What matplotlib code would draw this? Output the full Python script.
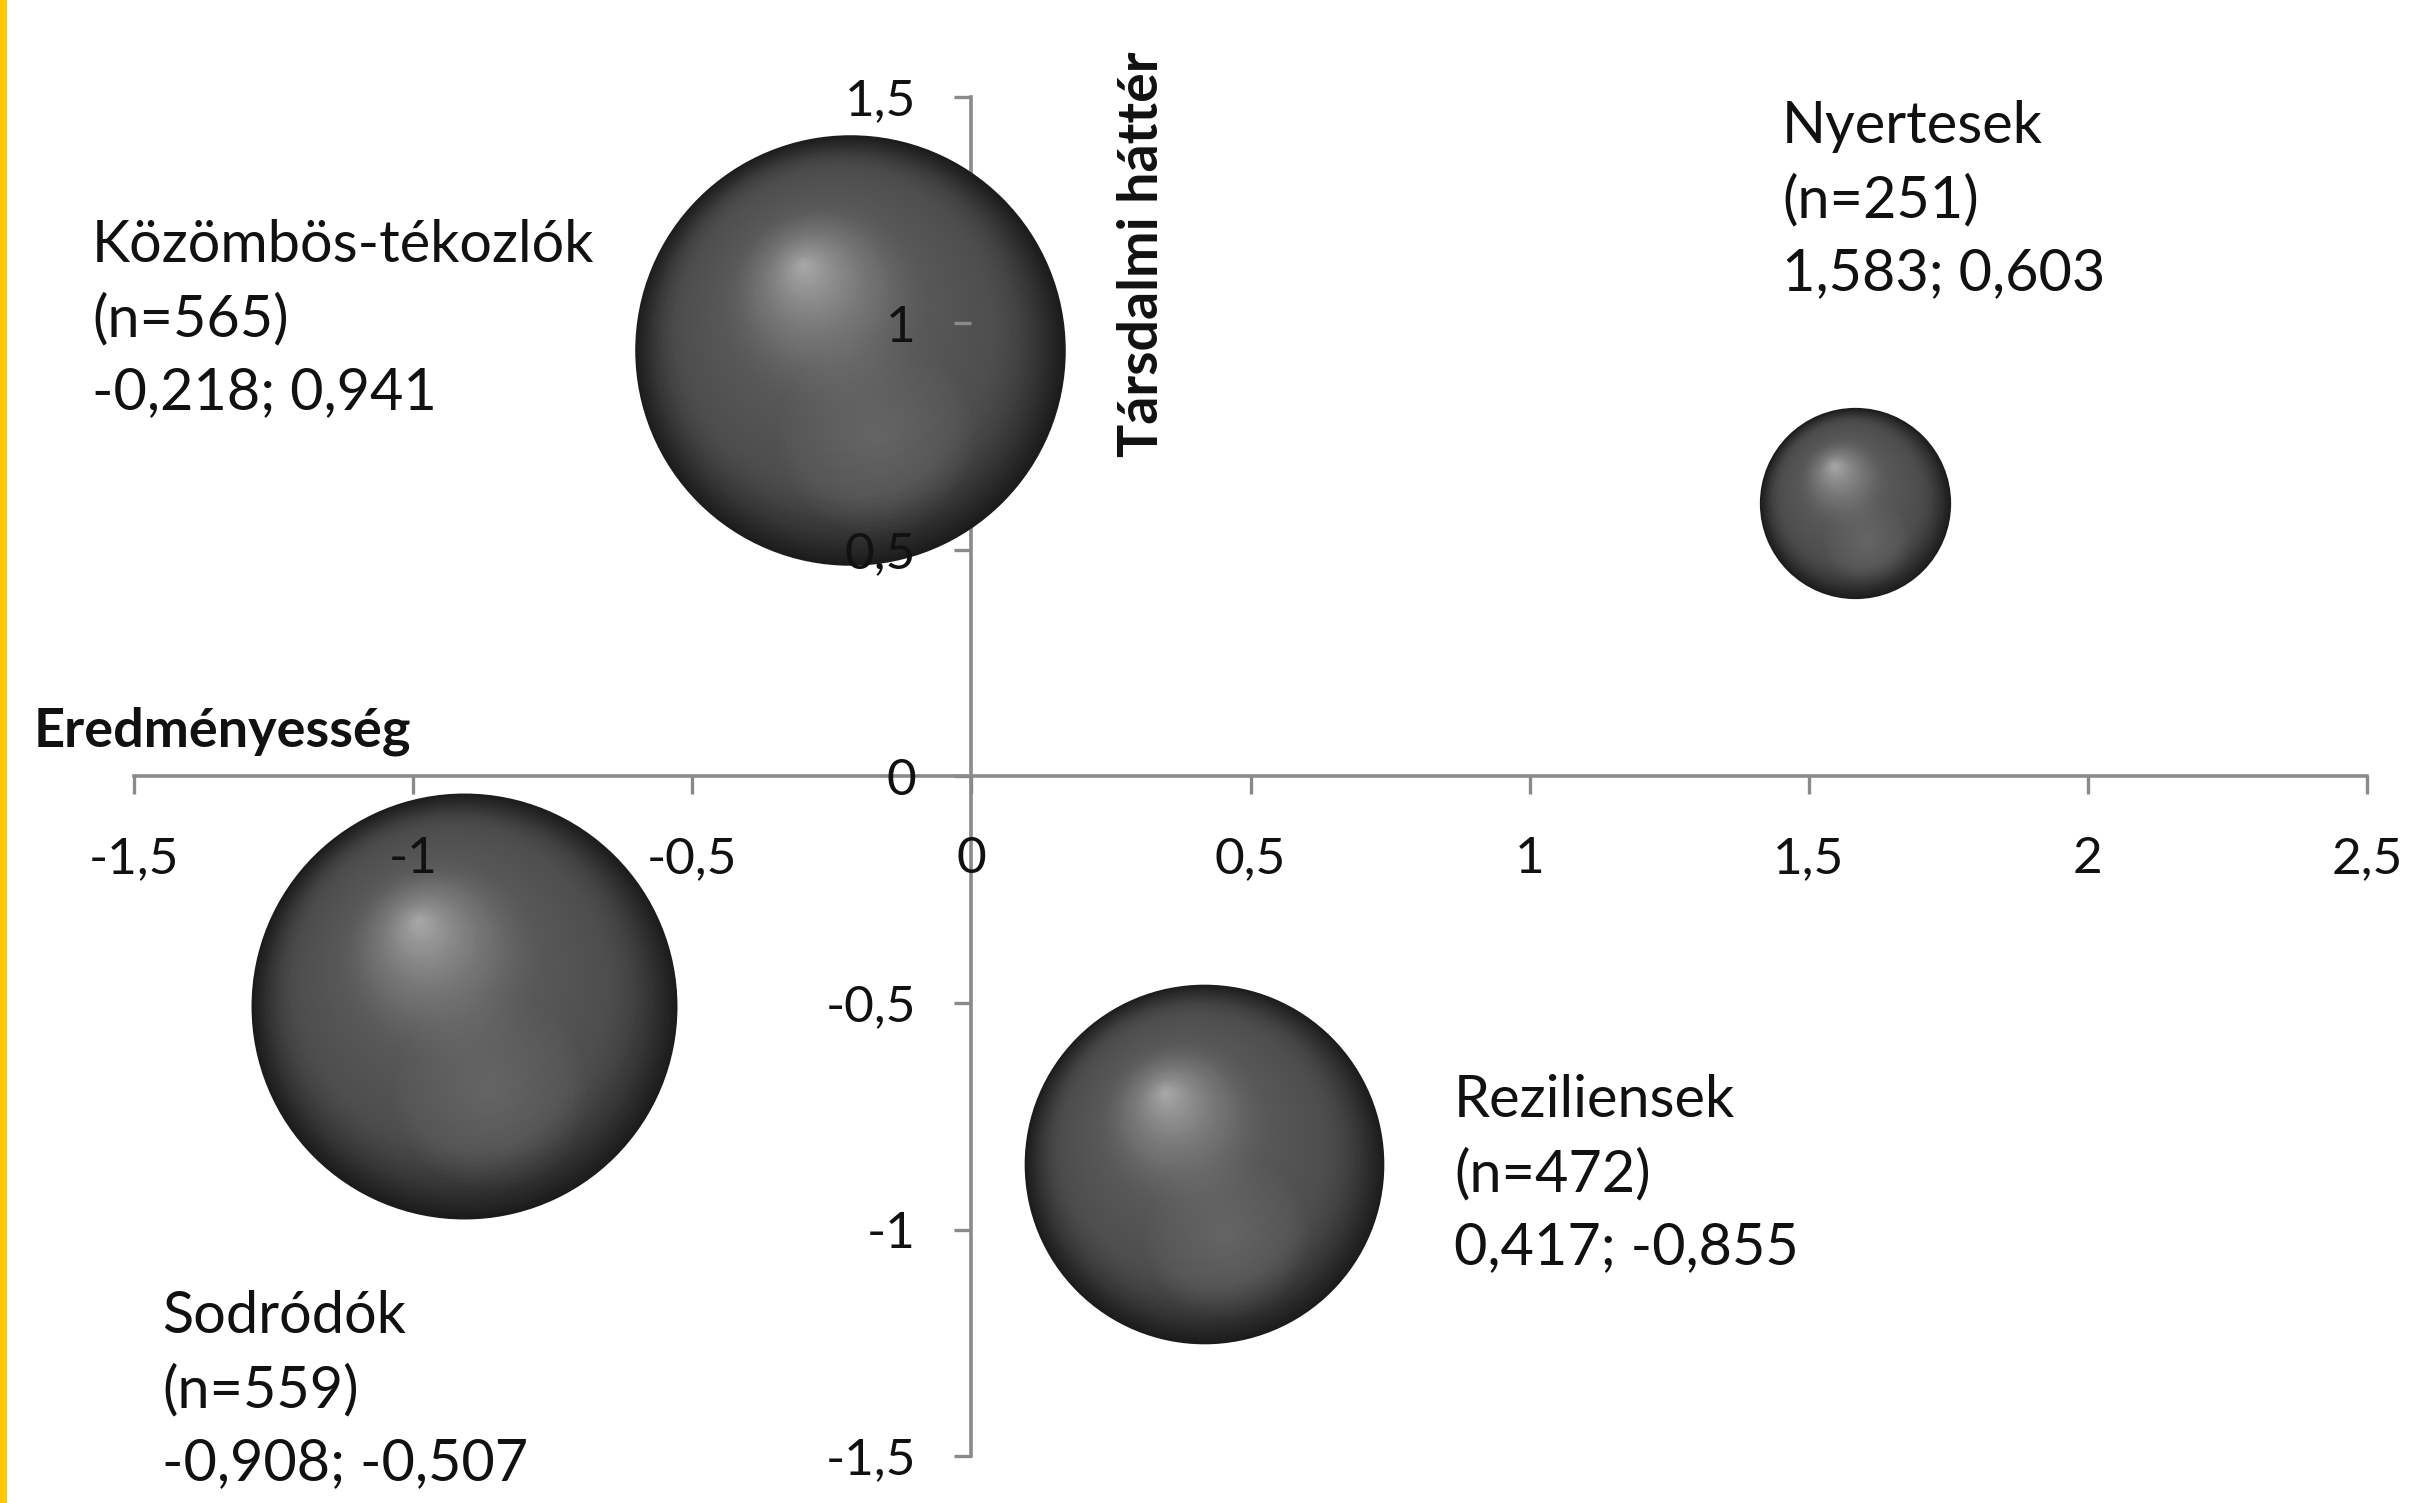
import numpy as np
import matplotlib
matplotlib.use("Agg")
import matplotlib.pyplot as plt
from matplotlib.transforms import offset_copy
from matplotlib.patches import Rectangle

plt.rcParams['font.family'] = ['Lato', 'DejaVu Sans']

# ---- data ----
groups = ["Közömbös-tékozlók", "Nyertesek", "Reziliensek", "Sodródók"]
x_vals = [-0.218, 1.583, 0.417, -0.908]
y_vals = [0.941, 0.603, -0.855, -0.507]
n_vals = [565, 251, 472, 559]
x_ticks = [-1.5, -1.0, -0.5, 0.0, 0.5, 1.0, 1.5, 2.0, 2.5]
y_ticks = [-1.5, -1.0, -0.5, 0.0, 0.5, 1.0, 1.5]
x_title = "Eredményesség"
y_title = "Társdalmi háttér"

W, H, DPI = 2413, 1503, 100
fig = plt.figure(figsize=(W / DPI, H / DPI), dpi=DPI)
fig.patch.set_facecolor("white")

# axes placement in pixels
x0_px, x1_px = 134, 2367
ytop_px, ybot_px = 97, 1456
ax = fig.add_axes([x0_px / W, 1 - ybot_px / H, (x1_px - x0_px) / W, (ybot_px - ytop_px) / H])
ax.set_xlim(-1.5, 2.5)
ax.set_ylim(-1.5, 1.5)
ax.patch.set_alpha(0)


def fmt(v):
    return ("%g" % v).replace(".", ",")


axis_col = "#8a8a8a"
for side in ["top", "right"]:
    ax.spines[side].set_visible(False)
ax.spines["left"].set_position(("data", 0))
ax.spines["bottom"].set_position(("data", 0))
for side in ["left", "bottom"]:
    ax.spines[side].set_color(axis_col)
    ax.spines[side].set_linewidth(2.6)
    ax.spines[side].set_zorder(0.5)

ax.set_xticks(x_ticks)
ax.set_xticklabels([fmt(v) for v in x_ticks])
ax.set_yticks(y_ticks)
ax.set_yticklabels([fmt(v) for v in y_ticks])
ax.tick_params(axis="x", direction="out", length=13, width=2.4, color=axis_col,
               pad=30, labelsize=37, labelcolor="#111111")
ax.tick_params(axis="y", direction="out", length=12, width=2.4, color=axis_col,
               pad=28, labelsize=37, labelcolor="#111111")
ax.xaxis.set_zorder(5)
ax.yaxis.set_zorder(5)

# ---- bubbles (sphere shading with layered circles) ----
px_per_n = 0.381  # bubble radius in pixels per unit of n (size = width)
hl = np.array([-0.22, 0.40])   # highlight offset (fraction of radius)
hl2 = np.array([0.12, -0.40])  # secondary reflection
NL = 80


def bright(t):
    s = np.clip(t / 0.32, 0, 1)
    s = np.sin(s * np.pi / 2)
    mid = 0.06 * np.clip((t - 0.3) / 0.4, 0, 1)
    p = np.clip((t - 0.5) / 0.5, 0, 1) ** 1.8
    return 0.11 + 0.20 * s + mid + 0.30 * p


for x, y, n in zip(x_vals, y_vals, n_vals):
    r_px = n * px_per_n
    r_pt = r_px * 72 / DPI
    for k in range(NL):
        t = k / NL
        rr = r_pt * (1 - t)
        off = t * hl * r_pt
        b = bright(t)
        tr = offset_copy(ax.transData, fig=fig, x=off[0], y=off[1], units="points")
        ax.scatter([x], [y], s=(2 * rr) ** 2, color=(b, b, b), linewidths=0,
                   transform=tr, zorder=2, clip_on=False)
    # secondary soft reflection
    for k in range(16):
        t = k / 16
        rr = 0.45 * r_pt * (1 - t)
        off = hl2 * r_pt
        tr = offset_copy(ax.transData, fig=fig, x=off[0], y=off[1], units="points")
        ax.scatter([x], [y], s=(2 * rr) ** 2, color="white", alpha=0.010,
                   linewidths=0, transform=tr, zorder=2.1, clip_on=False)

# ---- labels ----
label_px = [(92, 319), (1782, 200), (1454, 1174), (162, 1390)]
for (lx, ly), g, x, y, n in zip(label_px, groups, x_vals, y_vals, n_vals):
    txt = f"{g}\n(n={n})\n{('%.3f' % x).replace('.', ',')}; {('%.3f' % y).replace('.', ',')}"
    fig.text(lx / W, 1 - ly / H, txt, ha="left", va="center", fontsize=41.5,
             linespacing=1.47, color="#111111")

# ---- axis titles ----
fig.text(34 / W, 1 - 731 / H, x_title, ha="left", va="center", fontsize=39,
         fontweight="bold", color="#111111")
fig.text(1142 / W, 1 - 254 / H, y_title, ha="center", va="center", fontsize=40,
         fontweight="bold", rotation=90, color="#111111")

# left yellow border
fig.patches.append(Rectangle((0, 0), 7 / W, 1, transform=fig.transFigure,
                             facecolor="#FFC800", edgecolor="none", zorder=10))

fig.savefig("out.png", dpi=DPI, facecolor="white")
